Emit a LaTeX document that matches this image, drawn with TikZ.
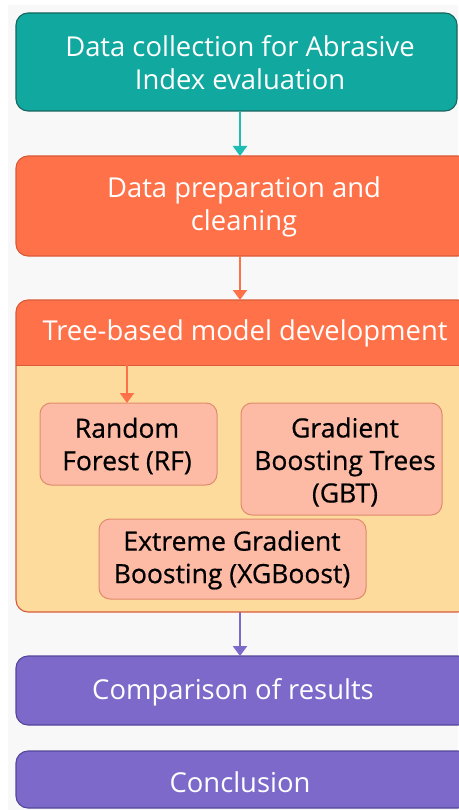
\documentclass[tikz,border=0pt]{standalone}
\usepackage{fontspec}
\setmainfont{Open Sans}
\newfontfamily\medfont[FakeBold=0.6]{Open Sans}
\usetikzlibrary{arrows.meta}
\definecolor{bgc}{HTML}{F8F8F8}
\definecolor{tealf}{HTML}{11A89F}
\definecolor{teald}{HTML}{17655F}
\definecolor{tealarrow}{HTML}{1DBDB4}
\definecolor{orf}{HTML}{FF7149}
\definecolor{ord}{HTML}{D95A38}
\definecolor{yelf}{HTML}{FDDB9C}
\definecolor{pinkf}{HTML}{FDBBA6}
\definecolor{pinkd}{HTML}{E08A6C}
\definecolor{purf}{HTML}{7C69C9}
\definecolor{purd}{HTML}{54479A}
\tikzset{
  x=1pt,y=-1pt,
  mainbox/.style={rounded corners=12pt,line width=1.1pt},
  subbox/.style={draw=pinkd,fill=pinkf,rounded corners=11pt,line width=1pt},
  wtext/.style={text=white,font=\fontsize{27.4}{33}\selectfont,align=center,inner sep=0pt},
  btext/.style={text=black,font=\medfont\fontsize{26.5}{32.5}\selectfont,align=center,inner sep=0pt},
  flowarrow/.style={line width=2.2pt,-{Triangle[length=10pt,width=14pt]}},
}
\begin{document}
\begin{tikzpicture}
\useasboundingbox (0,0) rectangle (458,810);
\fill[white] (0,0) rectangle (458,810);
\fill[bgc] (8,5) rectangle (458,810);
% box 1
\draw[mainbox,fill=tealf,draw=teald] (16,13) rectangle (457,111);
\node[wtext] (b1) at (240,62.5) {Data collection for Abrasive\\Index evaluation};
\coordinate (b1s) at (240,111);
% box 2
\draw[mainbox,fill=orf,draw=ord] (16,156) rectangle (470,256);
\node[wtext] (b2) at (244,206.5) {Data preparation and\\cleaning};
\coordinate (b2n) at (240,156);
\coordinate (b2s) at (240,256);
% container
\begin{scope}
\clip[rounded corners=12pt] (16,300) rectangle (470,612);
\fill[yelf] (16,300) rectangle (470,612);
\fill[orf] (16,300) rectangle (470,365);
\end{scope}
\draw[ord,line width=1pt] (16,365) -- (470,365);
\draw[mainbox,draw=ord] (16,300) rectangle (470,612);
\node[wtext] (hdr) at (245,333) {Tree-based model development};
\coordinate (cn) at (240,300);
\coordinate (cs) at (240,612);
\coordinate (hs) at (127,365);
% sub boxes
\draw[subbox] (40,403) rectangle (217,485);
\node[btext] (rf) at (127,446) {Random\\Forest (RF)};
\coordinate (rfn) at (127,403);
\draw[subbox] (241,403) rectangle (442,515);
\node[btext] (gbt) at (345,462) {Gradient\\Boosting Trees\\(GBT)};
\draw[subbox] (99,519) rectangle (366,599);
\node[btext] (xgb) at (232,560) {Extreme Gradient\\Boosting (XGBoost)};
% bottom boxes
\draw[mainbox,fill=purf,draw=purd] (16,656) rectangle (470,725);
\node[wtext] (cmp) at (233,692) {Comparison of results};
\coordinate (cmpn) at (240,656);
\draw[mainbox,fill=purf,draw=purd] (16,751) rectangle (470,808);
\node[wtext] (con) at (240,782) {Conclusion};
% arrows
\draw[flowarrow,tealarrow] (b1s) -- (b2n);
\draw[flowarrow,orf] (b2s) -- (cn);
\draw[flowarrow,orf] (hs) -- (rfn);
\draw[flowarrow,purf] (cs) -- (cmpn);
\end{tikzpicture}
\end{document}
